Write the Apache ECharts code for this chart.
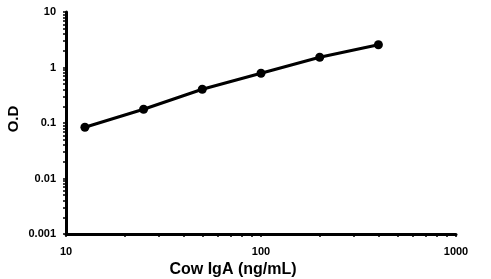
<!DOCTYPE html>
<html><head><meta charset="utf-8">
<script src="https://cdn.jsdelivr.net/npm/echarts@6/dist/echarts.min.js"></script>
<style>html,body{margin:0;padding:0;background:#fff}#c{width:491px;height:279px}</style>
</head><body><div id="c"></div>
<script>
var concentrations = [12.5, 25, 50, 100, 200, 400];
var odValues = [0.084, 0.177, 0.405, 0.786, 1.53, 2.57];
var xTickLabels = ['10', '100', '1000'];
var yTickLabels = ['0.001', '0.01', '0.1', '1', '10'];
var xTitle = 'Cow IgA (ng/mL)';
var yTitle = 'O.D';

function minorList(lo, hi) {
  var out = [];
  for (var d = lo; d < hi * 0.999; d *= 10) {
    for (var k = 1; k <= 9; k++) out.push(+(d * k).toPrecision(6));
  }
  out.push(hi);
  return out;
}
var xMajor = xTickLabels.map(Number), yMajor = yTickLabels.map(Number);
var font = 'Liberation Sans, Arial, sans-serif';
var chart = echarts.init(document.getElementById('c'));
chart.setOption({
  animation: false,
  backgroundColor: '#fff',
  grid: {left: 66, right: 35, top: 12, bottom: 45, containLabel: false, outerBoundsMode: 'none'},
  xAxis: [{
    type: 'log', logBase: 10, min: 10, max: 1000,
    name: xTitle, nameLocation: 'middle', nameGap: 28, nameMoveOverlap: false,
    nameTextStyle: {fontFamily: font, fontSize: 16, fontWeight: 'bold', color: '#000', padding: [0, 56, 0, 0]},
    axisLine: {lineStyle: {color: '#000', width: 3}},
    axisTick: {show: true, length: 3, customValues: minorList(10, 1000), lineStyle: {color: '#000', width: 1.5}},
    axisLabel: {customValues: xMajor, formatter: function (v) { return String(v); }, margin: 12,
      fontFamily: font, fontSize: 11, fontWeight: 'bold', color: '#000'},
    splitLine: {show: false}, minorTick: {show: false}
  }],
  yAxis: [{
    type: 'log', logBase: 10, min: 0.001, max: 10,
    name: yTitle, nameLocation: 'middle', nameGap: 45, nameRotate: 90, nameMoveOverlap: false,
    nameTextStyle: {fontFamily: font, fontSize: 15, fontWeight: 'bold', color: '#000', padding: [0, 0, 0, 8]},
    axisLine: {lineStyle: {color: '#000', width: 3}},
    axisTick: {show: true, length: 3, customValues: minorList(0.001, 10), lineStyle: {color: '#000', width: 1.5}},
    axisLabel: {customValues: yMajor, formatter: function (v) { return yTickLabels[yMajor.indexOf(+v.toPrecision(6))] || String(v); }, margin: 10,
      fontFamily: font, fontSize: 11, fontWeight: 'bold', color: '#000'},
    splitLine: {show: false}, minorTick: {show: false}
  }],
  series: [{
    type: 'line',
    data: concentrations.map(function (c, i) { return [c, odValues[i]]; }),
    symbol: 'circle', symbolSize: 9,
    lineStyle: {color: '#000', width: 3},
    itemStyle: {color: '#000'}
  }]
});
</script></body></html>
